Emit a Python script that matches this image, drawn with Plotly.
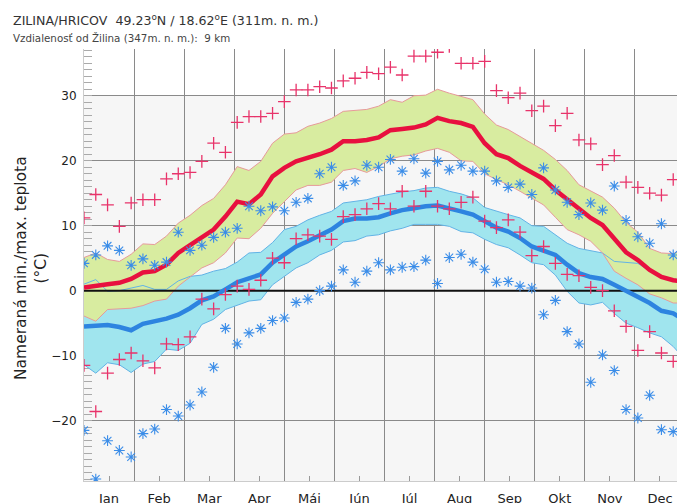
import plotly.graph_objects as go

# ---------------- data (52 weekly values through the year) ----------------
months = ["Jan", "Feb", "Mar", "Apr", "Máj", "Jún", "Júl", "Aug", "Sep", "Okt", "Nov", "Dec"]
n_weeks = 52

# record highest maximum temperature (red +, upper)
max_record_high = [11.2, 14.8, 13.2, 9.9, 13.5, 14.0, 14.0, 17.2, 18.0, 18.2, 19.9,
                   22.7, 21.3, 25.9, 26.8, 26.8, 27.3, 29.1, 30.9, 30.9, 31.4,
                   31.2, 32.3, 32.7, 33.6, 33.4, 34.4, 33.2, 36.1, 36.1, 36.7,
                   37.6, 35.0, 35.0, 35.3, 30.8, 29.7, 30.4, 27.7, 28.4, 25.4,
                   27.3, 23.2, 22.6, 19.4, 20.8, 16.7, 15.9, 15.0, 14.7, 17.1, 14.0]
# record lowest maximum temperature (red +, lower)
max_record_low = [-11.5, -18.6, -12.7, -10.6, -9.6, -10.8, -11.9, -8.2, -8.3, -7.1, -1.3,
                  -2.8, -0.6, 0.7, 0.2, 1.6, 5.0, 4.3, 8.0, 8.6, 8.4,
                  7.9, 11.4, 11.7, 12.6, 13.4, 12.6, 15.3, 13.0, 15.3, 13.0,
                  12.6, 13.6, 14.4, 10.7, 9.7, 10.9, 9.0, 5.4, 6.8, 4.2,
                  2.5, 2.3, 0.5, 0.0, -3.1, -5.5, -9.2, -6.3, -9.6, -10.9, -11.4]
# record highest minimum temperature (blue asterisk, upper)
min_record_high = [4.2, 5.5, 6.9, 6.2, 3.9, 4.9, 3.9, 4.4, 9.0, 6.2, 7.0,
                   8.2, 9.0, 9.6, 13.0, 12.3, 12.9, 12.3, 13.6, 14.2, 18.0,
                   19.0, 16.2, 16.9, 19.3, 19.0, 20.2, 18.4, 20.3, 18.1, 19.9,
                   18.6, 19.3, 18.4, 18.4, 16.9, 15.9, 16.4, 14.8, 18.9, 15.5,
                   13.6, 11.7, 13.5, 12.4, 16.1, 10.8, 8.3, 7.3, 10.3, 5.5, 9.1]
# record lowest minimum temperature (blue asterisk, lower)
min_record_low = [-21.5, -29.0, -23.1, -24.6, -25.6, -22.0, -21.3, -18.3, -19.3, -17.6, -15.6,
                  -11.8, -5.8, -8.2, -6.5, -5.8, -4.6, -4.2, -1.8, -1.3, 0.0,
                  0.7, 3.2, 1.3, 3.0, 4.3, 3.2, 3.6, 3.7, 4.7, 1.1,
                  5.1, 5.6, 4.4, 3.3, 1.3, 1.4, 0.7, 0.4, -3.7, -1.5,
                  -6.3, -8.2, -14.1, -9.9, -12.3, -18.3, -19.6, -16.1, -21.4, -21.7, -22.0]
# mean maximum temperature (red line)
max_mean = [0.5, 0.8, 1.0, 1.2, 1.8, 2.8, 3.0, 4.0, 5.8, 7.0, 8.3,
            9.4, 11.4, 13.7, 13.3, 14.8, 17.6, 18.9, 19.9, 20.4, 21.0,
            21.7, 23.0, 23.0, 23.2, 23.6, 24.7, 24.9, 25.1, 25.6, 26.6,
            26.1, 25.8, 25.2, 22.7, 21.0, 20.4, 19.2, 18.2, 17.2, 15.5,
            14.0, 12.6, 11.2, 10.1, 8.0, 5.9, 4.7, 3.2, 2.1, 1.6, 1.4]
# mean minimum temperature (blue line)
min_mean = [-5.5, -5.4, -5.3, -5.6, -6.1, -5.1, -4.7, -4.3, -3.7, -2.7, -1.5,
            -0.9, 0.2, 1.3, 1.9, 2.5, 4.3, 5.6, 6.8, 7.6, 8.5,
            9.4, 10.7, 11.1, 11.1, 11.3, 11.9, 12.4, 12.7, 13.0, 13.1,
            12.7, 12.2, 11.7, 10.6, 9.7, 9.1, 8.1, 6.8, 6.2, 5.5,
            4.0, 2.7, 2.1, 1.8, 0.9, 0.0, -0.9, -1.9, -3.1, -3.5, -4.6]
# band around mean maximum (green)
max_band_high = [5.1, 5.8, 4.8, 4.5, 5.6, 7.2, 7.1, 8.4, 10.4, 11.6, 13.1,
                 14.2, 16.3, 19.1, 18.5, 19.9, 22.7, 24.1, 24.3, 25.3, 25.8,
                 26.5, 27.6, 27.7, 27.9, 28.4, 29.4, 29.0, 30.0, 30.1, 31.0,
                 30.4, 29.9, 29.4, 27.2, 25.5, 24.8, 23.7, 22.6, 21.6, 20.2,
                 18.5, 16.3, 15.3, 14.4, 12.7, 10.5, 9.0, 6.5, 5.8, 5.7, 6.5]
max_band_low = [-3.9, -4.7, -2.9, -2.8, -2.7, -2.3, -1.6, -1.3, 0.7, 2.1, 3.5,
                4.3, 5.8, 8.1, 8.0, 9.6, 11.9, 13.7, 15.5, 16.2, 16.2,
                16.7, 18.5, 18.8, 18.2, 19.1, 20.3, 20.7, 20.9, 21.5, 21.9,
                21.3, 20.0, 19.9, 18.0, 17.1, 16.3, 15.3, 14.2, 13.2, 11.3,
                9.4, 8.6, 7.6, 5.8, 3.0, 1.9, 0.9, -0.5, -1.1, -1.9, -1.9]
# band around mean minimum (cyan)
min_band_high = [1.0, 1.7, -0.1, 0.0, 0.4, 0.8, 0.2, 0.2, 1.5, 2.2, 2.4,
                 3.0, 3.4, 4.4, 5.8, 5.9, 7.4, 9.4, 9.9, 10.9, 11.6,
                 12.2, 13.5, 13.8, 14.0, 14.5, 14.9, 15.2, 15.4, 15.8, 15.9,
                 15.3, 14.9, 14.3, 12.8, 12.2, 11.7, 11.2, 10.0, 9.9, 8.6,
                 7.3, 6.5, 6.1, 5.8, 4.5, 4.3, 4.2, 3.0, 2.2, 1.8, 1.6]
min_band_low = [-11.4, -12.7, -11.1, -11.4, -12.6, -11.3, -10.9, -9.0, -9.2, -8.1, -5.2,
                -4.4, -2.9, -2.2, -1.6, -1.4, 0.9, 2.2, 3.5, 4.3, 5.5,
                6.2, 7.5, 7.7, 8.4, 8.6, 9.2, 9.6, 10.2, 10.2, 10.2,
                9.9, 9.1, 8.9, 7.9, 7.1, 6.6, 5.5, 4.3, 4.0, 2.4,
                -0.1, -1.9, -2.2, -1.8, -3.5, -5.0, -5.7, -6.5, -7.1, -8.6, -10.6]

y_ticks = [-20, -10, 0, 10, 20, 30]

# weekly positions on a 12-month axis (months drawn as equal widths)
week_x = [i * 12 / (n_weeks - 1) for i in range(n_weeks)]
month_centers = [m + 0.5 for m in range(12)]

RED_LINE = "#e8103f"
BLUE_LINE = "#2d84e0"
RED_MARK = "#e8336a"
BLUE_MARK = "#3b8de8"
GREEN_FILL = "#d8eca0"
CYAN_FILL = "#a0e5ee"
GREEN_EDGE = "#e79a9a"
CYAN_EDGE = "#62b3e6"

fig = go.Figure()

# cyan band (min)
fig.add_trace(go.Scatter(x=week_x, y=min_band_low, mode="lines", line=dict(width=0, color=CYAN_FILL),
                         hoverinfo="skip"))
fig.add_trace(go.Scatter(x=week_x, y=min_band_high, mode="lines", line=dict(width=0, color=CYAN_FILL),
                         fill="tonexty", fillcolor=CYAN_FILL, hoverinfo="skip"))
# green band (max)
fig.add_trace(go.Scatter(x=week_x, y=max_band_low, mode="lines", line=dict(width=0, color=GREEN_FILL),
                         hoverinfo="skip"))
fig.add_trace(go.Scatter(x=week_x, y=max_band_high, mode="lines", line=dict(width=0, color=GREEN_FILL),
                         fill="tonexty", fillcolor=GREEN_FILL, hoverinfo="skip"))
# band edges
for arr in (min_band_low, min_band_high):
    fig.add_trace(go.Scatter(x=week_x, y=arr, mode="lines", line=dict(width=1, color=CYAN_EDGE)))
for arr in (max_band_low, max_band_high):
    fig.add_trace(go.Scatter(x=week_x, y=arr, mode="lines", line=dict(width=1, color=GREEN_EDGE)))

# zero line above the fills
fig.add_trace(go.Scatter(x=[0, 12], y=[0, 0], mode="lines", line=dict(width=2, color="#111111"),
                         hoverinfo="skip"))

# mean lines
fig.add_trace(go.Scatter(x=week_x, y=min_mean, mode="lines", line=dict(width=4.5, color=BLUE_LINE)))
fig.add_trace(go.Scatter(x=week_x, y=max_mean, mode="lines", line=dict(width=4.5, color=RED_LINE)))

# records
plus = dict(symbol="cross-thin", size=9, color=RED_MARK, line=dict(width=1.3, color=RED_MARK))
star = dict(symbol="asterisk", size=9, color=BLUE_MARK, line=dict(width=1.1, color=BLUE_MARK))
fig.add_trace(go.Scatter(x=week_x, y=min_record_high, mode="markers", marker=star))
fig.add_trace(go.Scatter(x=week_x, y=min_record_low, mode="markers", marker=star))
fig.add_trace(go.Scatter(x=week_x, y=max_record_high, mode="markers", marker=plus))
fig.add_trace(go.Scatter(x=week_x, y=max_record_low, mode="markers", marker=plus))

# the page places the figure 8 px from the top-left corner, so the figure is
# sized to end exactly at the window edge and positions are given in window pixels
OFF = 8
W, H = 685 - OFF, 503 - OFF
PLOT_L, PLOT_R, PLOT_T, PLOT_B = 84, 685, 49, 481   # plot area in window pixels
L, R, T, B = PLOT_L - OFF, W - (PLOT_R - OFF), PLOT_T - OFF, H - (PLOT_B - OFF)
pw, ph = W - L - R, H - T - B

def px_x(p):
    return (p - PLOT_L) / pw

def px_y(p):
    return (PLOT_B - p) / ph

fig.update_layout(
    width=W, height=H,
    margin=dict(l=L, r=R, t=T, b=B, pad=0, autoexpand=False),
    paper_bgcolor="white", plot_bgcolor="white",
    showlegend=False,
    font=dict(family="DejaVu Sans", color="#222222"),
    shapes=[dict(type="rect", xref="x", yref="y", x0=0, x1=12, y0=-40, y1=30,
                 fillcolor="#f6f6f6", line=dict(width=0), layer="below")],
    annotations=[
        dict(text="ZILINA/HRICOV\u00a0 49.23<sup>o</sup>N / 18.62<sup>o</sup>E (311m. n. m.)",
             xref="paper", yref="paper", x=px_x(11), y=px_y(20), xanchor="left", yanchor="middle",
             showarrow=False, font=dict(size=12.6, color="#333333")),
        dict(text="Vzdialenosť od Žilina (347m. n. m.):\u00a0 9 km",
             xref="paper", yref="paper", x=px_x(11), y=px_y(38), xanchor="left", yanchor="middle",
             showarrow=False, font=dict(size=10.3, color="#444444")),
        dict(text="Nameraná min./max. teplota<br>(°C)", textangle=-90,
             xref="paper", yref="paper", x=px_x(31), y=px_y(268), xanchor="center", yanchor="middle",
             showarrow=False, font=dict(size=15.5, color="#222222")),
    ],
)

fig.update_xaxes(
    range=[0, 12], tickmode="array", tickvals=month_centers, ticktext=months,
    ticks="inside", ticklen=5, tickcolor="#999999", showgrid=False, zeroline=False,
    minor=dict(tick0=0, dtick=1, showgrid=True, gridcolor="#8a8a8a", gridwidth=1, ticks=""),
    showline=True, linecolor="#cccccc", linewidth=1, automargin=False,
    tickfont=dict(size=13, color="#222222"), ticklabelstandoff=5,
)
fig.update_yaxes(
    range=[-29.3, 37.2], tickmode="array", tickvals=y_ticks,
    ticks="inside", ticklen=8, tickcolor="#aaaaaa",
    showgrid=True, gridcolor="#8a8a8a", gridwidth=1, zeroline=False,
    minor=dict(dtick=1, tick0=0, ticks="inside", ticklen=8, tickcolor="#aaaaaa", showgrid=False),
    showline=True, linecolor="#cccccc", linewidth=1, mirror="ticks", automargin=False,
    layer="below traces",
    tickfont=dict(size=12, color="#222222"), ticklabelstandoff=4,
)

fig.write_html("out.html")
